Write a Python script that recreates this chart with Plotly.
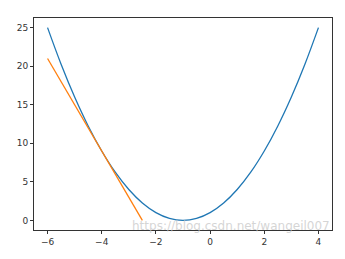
import plotly.graph_objects as go

curve_x = [-6, -5.5, -5, -4.5, -4, -3.5, -3, -2.5, -2, -1.5, -1, -0.5, 0, 0.5, 1, 1.5, 2, 2.5, 3, 3.5, 4]
curve_y = [25, 20.25, 16, 12.25, 9, 6.25, 4, 2.25, 1, 0.25, 0, 0.25, 1, 2.25, 4, 6.25, 9, 12.25, 16, 20.25, 25]
tangent_x = [-6, -2.5]
tangent_y = [21, 0]
x_ticks = [-6, -4, -2, 0, 2, 4]
y_ticks = [0, 5, 10, 15, 20, 25]
watermark = "https://blog.csdn.net/wangeil007"

fig = go.Figure()
fig.add_trace(go.Scatter(x=curve_x, y=curve_y, mode="lines",
                         line=dict(color="#1f77b4", width=1.3, shape="spline")))
fig.add_trace(go.Scatter(x=tangent_x, y=tangent_y, mode="lines",
                         line=dict(color="#ff7f0e", width=1.3)))

axis_common = dict(showgrid=False, zeroline=False, showline=True, mirror=True,
                   linecolor="#333333", linewidth=1, ticks="outside", ticklen=3,
                   tickwidth=1, tickcolor="#333333",
                   tickfont=dict(family="DejaVu Sans", size=9, color="#333333"))
fig.update_xaxes(range=[-6.5, 4.5], tickvals=x_ticks, **axis_common)
fig.update_yaxes(range=[-1.25, 26.25], tickvals=y_ticks, **axis_common)

fig.add_annotation(text=watermark, xref="paper", yref="paper", x=1.0, y=0.02,
                   xanchor="right", yanchor="middle", showarrow=False,
                   font=dict(family="DejaVu Sans", size=12, color="rgba(200,200,200,0.75)"))

fig.update_layout(width=345, height=259, margin=dict(l=34, r=13, t=18, b=20),
                  plot_bgcolor="white", paper_bgcolor="white", showlegend=False)
fig.write_html("out.html")
